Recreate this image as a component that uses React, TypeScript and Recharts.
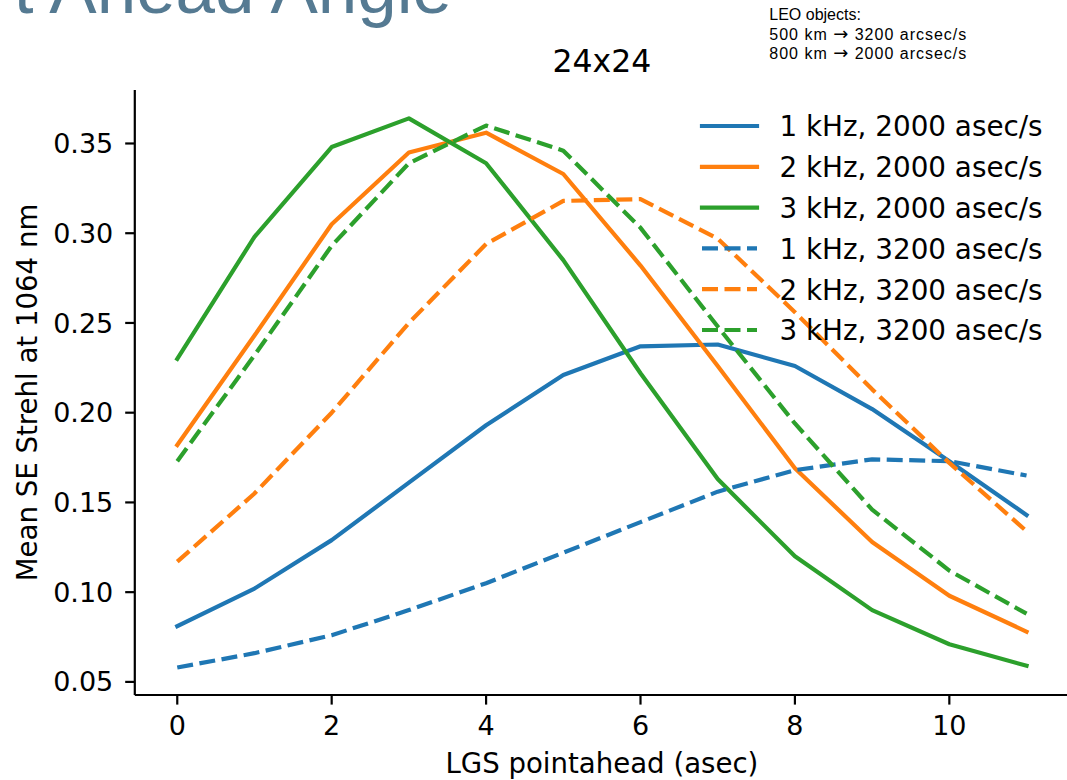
import React from 'react';
import { LineChart, Line, XAxis, YAxis, Legend } from 'recharts';

// LGS pointahead (asec)
const pointahead = [0, 1, 2, 3, 4, 5, 6, 7, 8, 9, 10, 11];

// Mean SE Strehl at 1064 nm
const khz1_2000 = [0.081, 0.102, 0.129, 0.161, 0.193, 0.221, 0.237, 0.238, 0.226, 0.202, 0.173, 0.143];
const khz2_2000 = [0.182, 0.243, 0.305, 0.345, 0.356, 0.333, 0.282, 0.226, 0.169, 0.128, 0.098, 0.078];
const khz3_2000 = [0.230, 0.298, 0.348, 0.364, 0.339, 0.285, 0.222, 0.163, 0.120, 0.090, 0.071, 0.059];
const khz1_3200 = [0.058, 0.066, 0.076, 0.090, 0.105, 0.122, 0.139, 0.156, 0.168, 0.174, 0.173, 0.165];
const khz2_3200 = [0.117, 0.155, 0.200, 0.250, 0.294, 0.318, 0.319, 0.297, 0.256, 0.213, 0.172, 0.134];
const khz3_3200 = [0.173, 0.232, 0.293, 0.339, 0.360, 0.346, 0.303, 0.248, 0.194, 0.146, 0.112, 0.088];

const xTicks = [0, 2, 4, 6, 8, 10];
const yTicks = [0.05, 0.10, 0.15, 0.20, 0.25, 0.30, 0.35];

const seriesNames = [
  '1 kHz, 2000 asec/s',
  '2 kHz, 2000 asec/s',
  '3 kHz, 2000 asec/s',
  '1 kHz, 3200 asec/s',
  '2 kHz, 3200 asec/s',
  '3 kHz, 3200 asec/s',
];
const seriesValues = [khz1_2000, khz2_2000, khz3_2000, khz1_3200, khz2_3200, khz3_3200];
const seriesColors = ['#1f77b4', '#ff7f0e', '#2ca02c', '#1f77b4', '#ff7f0e', '#2ca02c'];
const seriesDashed = [false, false, false, true, true, true];

const DASH = '16 6.5';
const LW = 4.2;
const FONT = "'DejaVu Sans', sans-serif";
const ARIAL = "'Liberation Sans', Arial, sans-serif";

const data = pointahead.map((x, i) => {
  const row: Record<string, number> = { x };
  seriesValues.forEach((vals, s) => {
    row['s' + s] = vals[i];
  });
  return row;
});

const renderLegend = () => (
  <svg width={377} height={260} style={{ overflow: 'visible' }}>
    {seriesNames.map((name, i) => {
      const y = 26 + i * 40.8;
      return (
        <g key={name}>
          <line
            x1={12}
            x2={67}
            y1={y}
            y2={y}
            stroke={seriesColors[i]}
            strokeWidth={LW}
            strokeDasharray={seriesDashed[i] ? DASH : undefined}
            strokeLinecap={seriesDashed[i] ? 'butt' : 'square'}
          />
          <text x={89.5} y={y + 10.3} fontSize={27.8} fontFamily={FONT} fill="#000">
            {name}
          </text>
        </g>
      );
    })}
  </svg>
);

export default function App() {
  return (
    <div
      style={{
        position: 'absolute',
        left: 0,
        top: 0,
        width: 1067,
        height: 780,
        overflow: 'hidden',
        background: '#fff',
      }}
    >
      <LineChart
        width={1069}
        height={780}
        data={data}
        margin={{ top: 90, right: 0, bottom: 0, left: 0 }}
        style={{ fontFamily: FONT }}
      >
        <XAxis
          dataKey="x"
          type="number"
          domain={[-0.55, 11.55]}
          ticks={xTicks}
          interval={0}
          allowDataOverflow
          height={85}
          tickSize={9.6}
          tickMargin={11.2}
          axisLine={{ stroke: '#000', strokeWidth: 2.2 }}
          tickLine={{ stroke: '#000', strokeWidth: 2.2 }}
          tick={{ fill: '#000', fontSize: 27, fontFamily: FONT }}
        />
        <XAxis
          xAxisId="top"
          orientation="top"
          dataKey="x"
          type="number"
          domain={[-0.55, 11.55]}
          allowDataOverflow
          height={0}
          tick={false}
          tickLine={false}
          axisLine={{ stroke: '#000', strokeWidth: 2.2 }}
        />
        <YAxis
          type="number"
          domain={[0.0427, 0.3798]}
          ticks={yTicks}
          interval={0}
          allowDataOverflow
          width={134.8}
          tickSize={9.6}
          tickMargin={11.9}
          tickFormatter={(v: number) => v.toFixed(2)}
          axisLine={{ stroke: '#000', strokeWidth: 2.2 }}
          tickLine={{ stroke: '#000', strokeWidth: 2.2 }}
          tick={{ fill: '#000', fontSize: 27, fontFamily: FONT }}
        />
        {seriesNames.map((name, i) => (
          <Line
            key={name}
            dataKey={'s' + i}
            name={name}
            type="linear"
            stroke={seriesColors[i]}
            strokeWidth={LW}
            strokeDasharray={seriesDashed[i] ? DASH : undefined}
            strokeLinecap={seriesDashed[i] ? 'butt' : 'square'}
            strokeLinejoin="round"
            dot={false}
            activeDot={false}
            isAnimationActive={false}
          />
        ))}
        <Legend
          layout="vertical"
          align="center"
          verticalAlign="middle"
          content={renderLegend}
          wrapperStyle={{ position: 'absolute', left: 690, top: 100, width: 377, height: 260 }}
        />
      </LineChart>
      <svg
        width={1067}
        height={780}
        style={{ position: 'absolute', left: 0, top: 0, pointerEvents: 'none' }}
      >
        <text x={452} y={13} textAnchor="end" fontSize={71} fontFamily={ARIAL} fill="#557a92">
          t Ahead Angle
        </text>
        <g fontFamily={ARIAL} fontSize={16} fill="#000">
          <text x={769.3} y={20}>LEO objects:</text>
          <text x={769.3} y={39.5} textLength={197} lengthAdjust="spacing">
            500 km <tspan fontFamily={FONT} fontSize={18}>→</tspan> 3200 arcsec/s
          </text>
          <text x={769.3} y={59.3} textLength={197} lengthAdjust="spacing">
            800 km <tspan fontFamily={FONT} fontSize={18}>→</tspan> 2000 arcsec/s
          </text>
        </g>
        <text x={601.9} y={72.3} textAnchor="middle" fontSize={31.5} fontFamily={FONT} fill="#000">
          24x24
        </text>
        <text x={601.9} y={773} textAnchor="middle" fontSize={27.6} fontFamily={FONT} fill="#000">
          LGS pointahead (asec)
        </text>
        <text
          transform="translate(36.7,392.5) rotate(-90)"
          textAnchor="middle"
          fontSize={27.6}
          fontFamily={FONT}
          fill="#000"
        >
          Mean SE Strehl at 1064 nm
        </text>
      </svg>
    </div>
  );
}
